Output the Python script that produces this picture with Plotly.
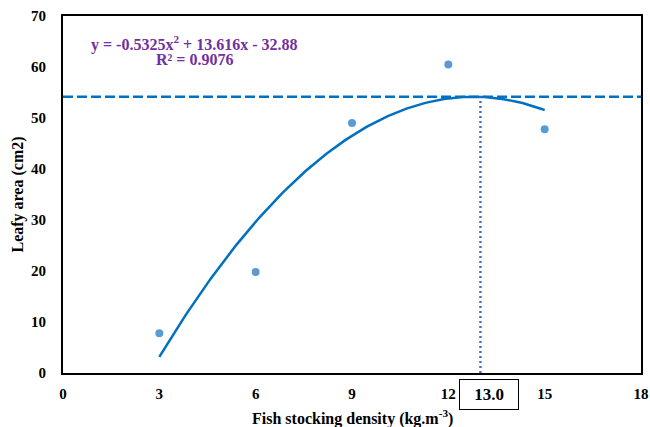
import numpy as np
import plotly.graph_objects as go

# Observed leafy area at each fish stocking density
density = [3, 6, 9, 12, 15]
leafy_area = [7.8, 19.8, 49.0, 60.5, 47.8]

# Quadratic trend coefficients (y = a x^2 + b x + c)
a, b, c = -0.5325, 13.616, -32.88
r_squared = 0.9076
optimum_label = 13.0

x_ticks = [0, 3, 6, 9, 12, 15, 18]
y_ticks = [0, 10, 20, 30, 40, 50, 60, 70]

xf = np.linspace(min(density), max(density), 200)
yf = a * xf**2 + b * xf + c
peak = c - b * b / (4 * a)

serif = "Liberation Serif, Times New Roman, serif"

fig = go.Figure()
fig.add_trace(go.Scatter(x=density, y=leafy_area, mode="markers",
                         marker=dict(color="#5B9BD5", size=8), showlegend=False))
fig.add_trace(go.Scatter(x=xf, y=yf, mode="lines",
                         line=dict(color="#0070C0", width=2.5), showlegend=False))
# Horizontal dashed line at the fitted maximum
fig.add_trace(go.Scatter(x=[0, 18], y=[peak, peak], mode="lines",
                         line=dict(color="#0070C0", width=2.5, dash="10px,4px"), showlegend=False))
# Vertical dotted line at the optimum density
fig.add_trace(go.Scatter(x=[optimum_label, optimum_label], y=[0, peak], mode="lines",
                         line=dict(color="#4472C4", width=2.5, dash="2px,3px"), showlegend=False))

# Trendline equation and R²
fig.add_annotation(xref="paper", yref="paper", x=0.227, y=0.924, xanchor="center", yanchor="middle",
                   text=f"<b>y = {a}x<sup>2</sup> + {b}x - {abs(c)}</b>",
                   showarrow=False, font=dict(family=serif, size=16, color="#7030A0"))
fig.add_annotation(xref="paper", yref="paper", x=0.227, y=0.878, xanchor="center", yanchor="middle",
                   text=f"<b>R² = {r_squared}</b>",
                   showarrow=False, font=dict(family=serif, size=16, color="#7030A0"))
# Boxed optimum density label
fig.add_annotation(xref="x", yref="paper", x=optimum_label, y=-0.06, xshift=9,
                   xanchor="center", yanchor="middle",
                   text=f"<b>{optimum_label:.1f}</b>", showarrow=False,
                   width=54, height=25,
                   bordercolor="black", borderwidth=1, borderpad=2, bgcolor="white",
                   font=dict(family=serif, size=17, color="black"))
# X-axis title placed below the boxed label
fig.add_annotation(xref="paper", yref="paper", x=0.5, y=-0.126,
                   xanchor="center", yanchor="middle", showarrow=False,
                   text="<b>Fish stocking density (kg.m<sup>-3</sup>)</b>",
                   font=dict(family=serif, size=16, color="black"))

axis_common = dict(showgrid=False, zeroline=False, showline=True, linecolor="black",
                   linewidth=2, mirror=True, ticks="", automargin=False,
                   tickfont=dict(family=serif, size=15, color="black"))

fig.update_layout(
    width=650, height=427,
    margin=dict(l=63, r=9, t=16, b=54),
    paper_bgcolor="white", plot_bgcolor="white",
    xaxis=dict(range=[0, 18], tickvals=x_ticks, ticktext=[f"<b>{t}</b>" for t in x_ticks],
               ticklabelstandoff=6, **axis_common),
    yaxis=dict(range=[0, 70], tickvals=y_ticks, ticktext=[f"<b>{t}</b>" for t in y_ticks],
               ticklabelstandoff=12,
               title=dict(text="<b>Leafy area (cm2)</b>",
                          font=dict(family=serif, size=16, color="black"), standoff=3),
               **axis_common),
)

fig.write_html("out.html")
